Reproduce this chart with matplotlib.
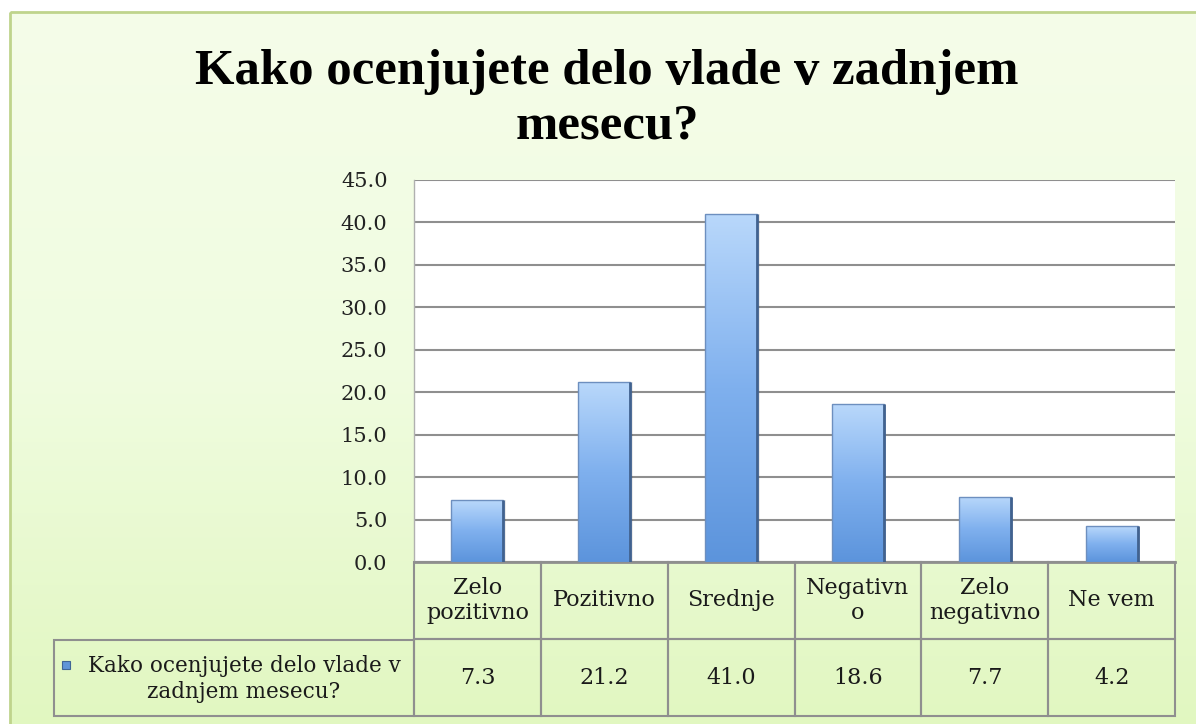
import numpy as np
import matplotlib
matplotlib.use("Agg")
import matplotlib.pyplot as plt
from matplotlib.patches import Rectangle
from matplotlib.colors import LinearSegmentedColormap

# survey answers and shares (%)
categories = ["Zelo pozitivno", "Pozitivno", "Srednje", "Negativno", "Zelo negativno", "Ne vem"]
header_labels = ["Zelo\npozitivno", "Pozitivno", "Srednje", "Negativn\no", "Zelo\nnegativno", "Ne vem"]
values = [7.3, 21.2, 41.0, 18.6, 7.7, 4.2]
series_name = "Kako ocenjujete delo vlade v\nzadnjem mesecu?"
title = "Kako ocenjujete delo vlade v zadnjem\nmesecu?"
yticks = [0, 5, 10, 15, 20, 25, 30, 35, 40, 45]

W, H = 1196, 724
serif = "DejaVu Serif"

fig = plt.figure(figsize=(W / 100, H / 100), dpi=100)
fig.patch.set_facecolor("white")

# background panel with a soft green gradient, coordinates in pixels
bg = fig.add_axes([0, 0, 1, 1])
bg.set_xlim(0, W)
bg.set_ylim(H, 0)
bg.axis("off")
grad = np.linspace(0, 1, 256).reshape(-1, 1)
bg_cmap = LinearSegmentedColormap.from_list("bg", ["#f5fde9", "#f0fce0", "#e1f7c0"])
bg.imshow(grad, cmap=bg_cmap, aspect="auto", extent=[10, W + 5, H + 5, 12], zorder=0)
bg.add_patch(Rectangle((10, 12), W, H, fill=False, edgecolor="#bfd48c", lw=2, zorder=1))

fig.text(607 / W, 1 - 99 / H, title, ha="center", va="center", fontsize=36.5,
         fontweight="bold", family="Liberation Serif", linespacing=1.24, color="black")

# plot area
left, right, top, bottom = 414, 1175, 180, 562
ax = fig.add_axes([left / W, 1 - bottom / H, (right - left) / W, (bottom - top) / H])
ax.set_facecolor("white")
ax.set_xlim(-0.5, len(values) - 0.5)
ax.set_ylim(0, 45)
ax.set_yticks(yticks)
ax.set_yticklabels([f"{t:.1f}" for t in yticks], fontsize=15, family=serif, color="#222222")
ax.tick_params(axis="y", length=0, pad=19)
ax.set_xticks([])
ax.grid(axis="y", color="#8f8f8f", lw=1.5, zorder=0)
ax.set_axisbelow(True)
for s in ["top", "right"]:
    ax.spines[s].set_visible(False)
ax.spines["left"].set_color("#b0b0b0")
ax.spines["left"].set_linewidth(1)
ax.spines["bottom"].set_color("#8f8f8f")
ax.spines["bottom"].set_linewidth(2)

bar_cmap = LinearSegmentedColormap.from_list("bar", ["#5c94dc", "#7fb0ee", "#b9d8fb"])
bw = 0.41
for i, v in enumerate(values):
    # faint shadow to the right of the bar
    ax.add_patch(Rectangle((i - bw / 2 + 0.02, 0), bw, v, facecolor="#000000", alpha=0.08,
                           lw=0, zorder=2))
    im = ax.imshow(grad, cmap=bar_cmap, aspect="auto", origin="lower",
                   extent=[i - bw / 2, i + bw / 2, 0, v], zorder=3)
    rect = Rectangle((i - bw / 2, 0), bw, v, facecolor="none", edgecolor="#6d8fbf", lw=1, zorder=4)
    ax.add_patch(rect)
    im.set_clip_path(rect)
    ax.plot([i + bw / 2, i + bw / 2], [0, v], color="#41628f", lw=2, zorder=5,
            solid_capstyle="butt")
ax.set_xlim(-0.5, len(values) - 0.5)
ax.set_ylim(0, 45)

# data table under the bars
tb_h = (716 - bottom) / (bottom - top)
tbl = ax.table(cellText=[[f"{v:.1f}" for v in values]], colLabels=header_labels,
               cellLoc="center", colLoc="center", bbox=[0, -tb_h, 1, tb_h])
tbl.auto_set_font_size(False)
for (r, c), cell in tbl.get_celld().items():
    cell.set_facecolor("none")
    cell.set_edgecolor("#8f8f8f")
    cell.set_linewidth(1.5)
    cell.set_text_props(family=serif, fontsize=16, color="#1a1a1a", linespacing=1.2)

# series label cell with legend key
bg.add_patch(Rectangle((54, 640), left - 54, 716 - 640, fill=False, edgecolor="#8f8f8f",
                       lw=1.5, zorder=2))
bg.text(244, 679, series_name, ha="center", va="center", fontsize=15.5, family=serif,
        color="#1a1a1a", linespacing=1.2, zorder=3)
key = Rectangle((62, 661), 8, 8, facecolor="#5f95d8", edgecolor="#3f6596", lw=0.8, zorder=3)
bg.add_patch(key)

fig.savefig("out.png", dpi=100)
